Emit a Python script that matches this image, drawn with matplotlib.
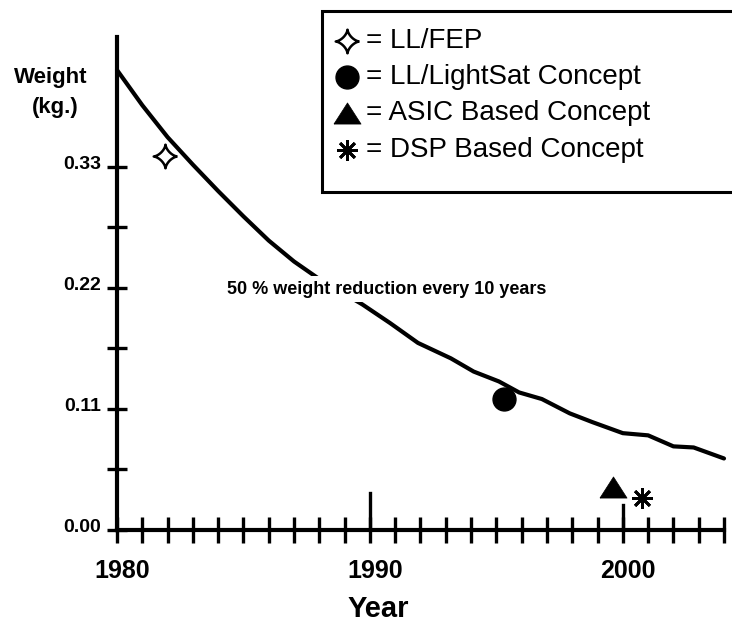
import numpy as np
import matplotlib
matplotlib.use("Agg")
import matplotlib.pyplot as plt
from matplotlib.lines import Line2D
from matplotlib.patches import Rectangle
import matplotlib.transforms as mtransforms

plt.rcParams['font.family'] = ['Liberation Sans', 'DejaVu Sans']

# ---------------- data ----------------
trend_years = [1980, 1981, 1982, 1983, 1984, 1985, 1986, 1987, 1988, 1989.7,
               1990.8, 1991.9, 1993.2, 1994.1, 1995.1, 1995.9, 1996.8, 1997.9,
               1998.8, 2000.0, 2001.0, 2002.0, 2002.8, 2004.0]
trend_weight = [0.418, 0.386, 0.357, 0.332, 0.308, 0.285, 0.263, 0.244, 0.228,
                0.205, 0.188, 0.170, 0.156, 0.144, 0.135, 0.125, 0.119, 0.106,
                0.098, 0.088, 0.086, 0.076, 0.075, 0.065]

fep_year = [1981.9]
fep_weight = [0.340]
lightsat_year = [1995.3]
lightsat_weight = [0.119]
asic_year = [1999.6]
asic_weight = [0.039]
dsp_year = [2000.75]
dsp_weight = [0.029]

major_years = [1980, 1990, 2000]
year_labels = ['1980', '1990', '2000']
minor_years = list(range(1980, 2005))
weight_ticks = [0.0, 0.11, 0.22, 0.33]
weight_labels = ['0.00', '0.11', '0.22', '0.33']
weight_minor = [0.055, 0.165, 0.275]

legend_labels = ['= LL/FEP', '= LL/LightSat Concept', '= ASIC Based Concept',
                 '= DSP Based Concept']
annotation = '50 % weight reduction every 10 years'

# ---------------- figure ----------------
W, H = 732, 626
fig = plt.figure(figsize=(W / 100, H / 100), dpi=100)


def fx(px):
    return px / W


def fy(py):
    return 1 - py / H


ax = fig.add_axes([fx(117), fy(530), (724 - 117) / W, (530 - 37) / H])
ax.set_xlim(1980, 2004)
ax.set_ylim(0, 0.448)

for s in ['top', 'right']:
    ax.spines[s].set_visible(False)
for s in ['left', 'bottom']:
    ax.spines[s].set_linewidth(3)

# astroid (four-point star) marker
t = np.linspace(0, 2 * np.pi, 80)
astroid = list(zip(np.cos(t) ** 3, np.sin(t) ** 3))
tri = [(-1, -0.78), (1, -0.78), (0, 0.78), (-1, -0.78)]

mk = dict(
    fep=dict(marker=astroid, markersize=17, markerfacecolor='white',
             markeredgecolor='black', markeredgewidth=1.8),
    lightsat=dict(marker='o', markersize=16.5, markerfacecolor='black',
                  markeredgecolor='black'),
    asic=dict(marker=tri, markersize=19.5, markerfacecolor='black',
              markeredgecolor='black', markeredgewidth=0.5),
    dsp=dict(marker=(8, 2, 0), markersize=15, markeredgecolor='black',
             markeredgewidth=2),
)

ax.plot(trend_years, trend_weight, color='black', lw=3, clip_on=False,
        solid_capstyle='round', solid_joinstyle='round', zorder=3)
ax.plot(fep_year, fep_weight, ls='none', **mk['fep'], zorder=4)
ax.plot(lightsat_year, lightsat_weight, ls='none', **mk['lightsat'], zorder=4)
ax.plot(asic_year, asic_weight, ls='none', **mk['asic'], zorder=4)
ax.plot(dsp_year, dsp_weight, ls='none', **mk['dsp'], zorder=4)

ax.text(1990.67, 0.219, annotation, ha='center', va='center', fontsize=13,
        fontweight='bold', zorder=5,
        bbox=dict(facecolor='white', edgecolor='none', pad=3))

# ticks
ax.set_xticks(major_years)
ax.set_xticklabels(year_labels, fontsize=18, fontweight='bold')
ax.set_xticks(minor_years, minor=True)
ax.tick_params(axis='x', which='both', direction='inout', length=19.4,
               width=2.4, pad=11)
ax.set_yticks(weight_ticks)
ax.set_yticklabels(weight_labels, fontsize=14, fontweight='bold')
ax.set_yticks(weight_minor, minor=True)
ax.tick_params(axis='y', which='both', direction='inout', length=13.7,
               width=2.4, pad=4.5)

for lab in ax.get_xticklabels():
    lab.set_transform(lab.get_transform() +
                      mtransforms.ScaledTranslation(5 / 100, 0, fig.dpi_scale_trans))
for lab in ax.get_yticklabels():
    lab.set_transform(lab.get_transform() +
                      mtransforms.ScaledTranslation(0, 4 / 100, fig.dpi_scale_trans))

# tall ticks at decades
ax.axvline(1990, ymin=0, ymax=37 / 493, color='black', lw=2.4)
ax.axvline(2000, ymin=0, ymax=25 / 493, color='black', lw=2.4)

# axis titles
fig.text(fx(378), fy(609), 'Year', ha='center', va='center', fontsize=21,
         fontweight='bold')
fig.text(fx(51), fy(77), 'Weight', ha='center', va='center', fontsize=16,
         fontweight='bold')
fig.text(fx(55), fy(108), '(kg.)', ha='center', va='center', fontsize=16,
         fontweight='bold')

# legend box
fig.add_artist(Rectangle((fx(322), fy(192)), fx(760) - fx(322), fy(11) - fy(192),
                         transform=fig.transFigure, facecolor='white',
                         edgecolor='black', lw=2.2, clip_on=False, zorder=6))
rows_y = [41, 77, 113, 150]
keys = ['fep', 'lightsat', 'asic', 'dsp']
for k, yy, lab in zip(keys, rows_y, legend_labels):
    fig.add_artist(Line2D([fx(347)], [fy(yy)], transform=fig.transFigure,
                          ls='none', zorder=7, **mk[k]))
    fig.text(fx(366), fy(yy), lab, ha='left', va='center', fontsize=20,
             zorder=7)

fig.savefig('out.png', dpi=100)
